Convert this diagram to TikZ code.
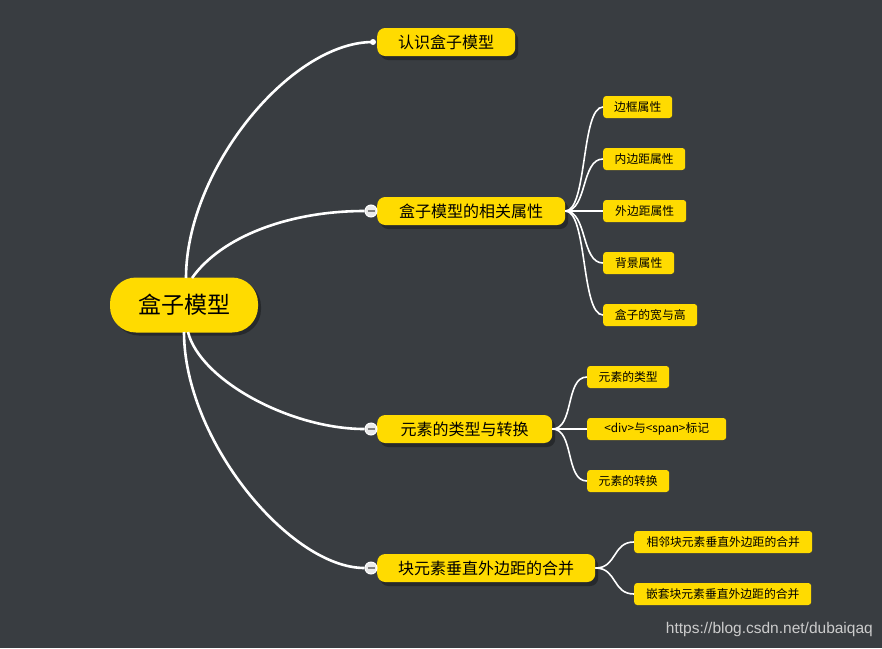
\documentclass[tikz,border=0pt]{standalone}
\usepackage{fontspec}
\setmainfont{Noto Sans CJK SC}
\newfontfamily\markfont{Liberation Sans}
\usetikzlibrary{positioning,shadows}
\definecolor{bgcol}{HTML}{393D41}
\definecolor{boxcol}{HTML}{FFDB00}
\definecolor{shadecol}{HTML}{26292C}

\tikzset{
  root/.style={fill=boxcol,rounded corners=26pt,minimum width=148pt,minimum height=55pt,
    inner sep=0pt,font=\fontsize{23}{25}\selectfont,
    drop shadow={shadow xshift=3pt,shadow yshift=-3pt,fill=shadecol,opacity=1}},
  topic/.style={fill=boxcol,rounded corners=8pt,minimum height=28pt,anchor=west,
    inner sep=0pt,font=\fontsize{16}{18}\selectfont,
    drop shadow={shadow xshift=3pt,shadow yshift=-4pt,fill=shadecol,opacity=1}},
  leaf/.style={fill=boxcol,rounded corners=3pt,minimum height=22pt,anchor=west,
    inner sep=0pt,font=\fontsize{11.8}{13}\selectfont},
  link/.style={draw=white,line width=2.6pt},
  twig/.style={draw=white,line width=1.6pt},
  fold/.style={circle,draw=white,fill=white!92!black,line width=1pt,minimum size=12pt,inner sep=0pt,
    path picture={\draw[black!50,line width=1.3pt] ([xshift=-3.5pt]path picture bounding box.center) -- ([xshift=3.5pt]path picture bounding box.center);}},
  knob/.style={circle,fill=white,minimum size=6pt,inner sep=0pt},
}

\begin{document}
\begin{tikzpicture}[x=1pt,y=-1pt]
    % Background
    \fill[bgcol] (0,0) rectangle (882,648);
    \useasboundingbox (0,0) rectangle (882,648);

    % Root
    \node[root] (box) at (184,305) {盒子模型};

    % Topics
    \node[topic,minimum width=138pt] (know) at (377,42) {认识盒子模型};
    \node[topic,minimum width=188pt] (attr) at (377,211) {盒子模型的相关属性};
    \node[topic,minimum width=175pt] (kind) at (377,429) {元素的类型与转换};
    \node[topic,minimum width=218pt] (merge) at (377,568) {块元素垂直外边距的合并};

    % Fold buttons
    \node[knob] (kk) at (373,42) {};
    \node[fold] (ka) at (371,211) {};
    \node[fold] (kt) at (371,429) {};
    \node[fold] (km) at (371,568) {};

    % Root links
    \draw[link] (186,278) .. controls (186,170) and (290,42) .. (kk.center);
    \draw[link] (192,278) .. controls (222,236) and (290,211) .. (ka.west);
    \draw[link] (188,332) .. controls (200,380) and (290,429) .. (kt.west);
    \draw[link] (184,332) .. controls (184,440) and (290,568) .. (km.west);

    % Attributes
    \node[leaf,minimum width=69pt] (border) at (603,107) {边框属性};
    \node[leaf,minimum width=82pt] (pad) at (603,159) {内边距属性};
    \node[leaf,minimum width=83pt] (marg) at (603,211) {外边距属性};
    \node[leaf,minimum width=71pt] (bg) at (603,263) {背景属性};
    \node[leaf,minimum width=94pt] (size) at (603,315) {盒子的宽与高};
    \foreach \n in {border,pad,marg,bg,size}
        \draw[twig] (attr.east) .. controls +(22,0) and +(-22,0) .. (\n.west);

    % Element types
    \node[leaf,minimum width=82pt] (type) at (587,377) {元素的类型};
    \node[leaf,minimum width=139pt] (tag) at (587,429) {<div>与<span>标记};
    \node[leaf,minimum width=82pt] (swap) at (587,481) {元素的转换};
    \foreach \n in {type,tag,swap}
        \draw[twig] (kind.east) .. controls +(22,0) and +(-22,0) .. (\n.west);

    % Margin merging
    \node[leaf,minimum width=178pt] (near) at (634,542) {相邻块元素垂直外边距的合并};
    \node[leaf,minimum width=177pt] (nest) at (634,594) {嵌套块元素垂直外边距的合并};
    \foreach \n in {near,nest}
        \draw[twig] (merge.east) .. controls +(22,0) and +(-22,0) .. (\n.west);

    % Watermark
    \node[anchor=east,text=black!20,font=\markfont\fontsize{15.5}{17}\selectfont,inner sep=0pt] (mark) at (873,629) {https://blog.csdn.net/dubaiqaq};
\end{tikzpicture}
\end{document}
